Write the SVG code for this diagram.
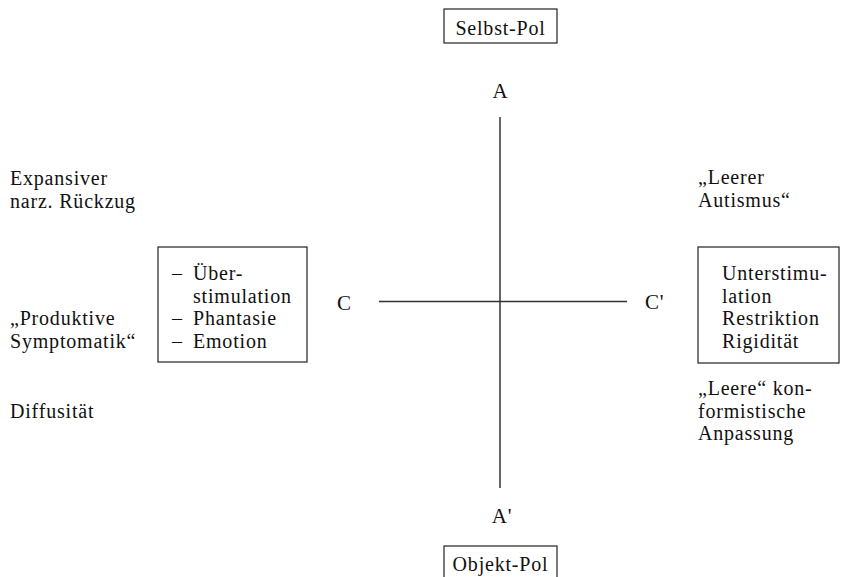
<svg xmlns="http://www.w3.org/2000/svg" width="846" height="577" viewBox="0 0 846 577">
<style>
text{font-family:"Liberation Serif","Times New Roman",serif;font-size:20px;letter-spacing:0.8px;fill:#111}
.big{font-size:21px}
.mid{text-anchor:middle}
.box{fill:none;stroke:#222;stroke-width:1.2}
.axis{stroke:#333;stroke-width:1.5;fill:none}
</style>
<rect width="846" height="577" fill="#fff"/>
<g id="connectors">
<line class="axis" x1="500" y1="117" x2="500" y2="488"/>
<line class="axis" x1="379" y1="301.5" x2="627" y2="301.5"/>
</g>
<g id="selbst-pol">
<rect class="box" x="444" y="9" width="113" height="34"/>
<text class="mid" x="500.5" y="35">Selbst-Pol</text>
</g>
<g id="objekt-pol">
<rect class="box" x="444" y="546" width="113" height="40"/>
<text class="mid" x="500.5" y="571">Objekt-Pol</text>
</g>
<g id="A"><text class="big mid" x="500.5" y="98">A</text></g>
<g id="A2"><text class="big mid" x="502" y="523">A'</text></g>
<g id="C"><text class="big" x="337" y="310">C</text></g>
<g id="C2"><text class="big" x="645" y="309">C'</text></g>
<g id="left-box">
<rect class="box" x="158" y="247" width="149" height="115"/>
<text x="172" y="280">–</text><text x="193" y="280">Über-</text>
<text x="193" y="302.5">stimulation</text>
<text x="172" y="325">–</text><text x="193" y="325">Phantasie</text>
<text x="172" y="347.5">–</text><text x="193" y="347.5">Emotion</text>
</g>
<g id="right-box">
<rect class="box" x="698" y="247" width="141" height="116"/>
<text x="722" y="280">Unterstimu-</text>
<text x="722" y="302.5">lation</text>
<text x="722" y="325">Restriktion</text>
<text x="722" y="347.5">Rigidität</text>
</g>
<g id="expansiver">
<text x="10" y="185">Expansiver</text>
<text x="10" y="207.5">narz. Rückzug</text>
</g>
<g id="produktive">
<text x="10" y="325">„Produktive</text>
<text x="10" y="347.5">Symptomatik“</text>
</g>
<g id="diffusitaet"><text x="10" y="418">Diffusität</text></g>
<g id="leerer-autismus">
<text x="698" y="184">„Leerer</text>
<text x="698" y="206.5">Autismus“</text>
</g>
<g id="leere-anpassung">
<text x="698" y="395">„Leere“ kon-</text>
<text x="698" y="417.5">formistische</text>
<text x="698" y="440">Anpassung</text>
</g>
</svg>
